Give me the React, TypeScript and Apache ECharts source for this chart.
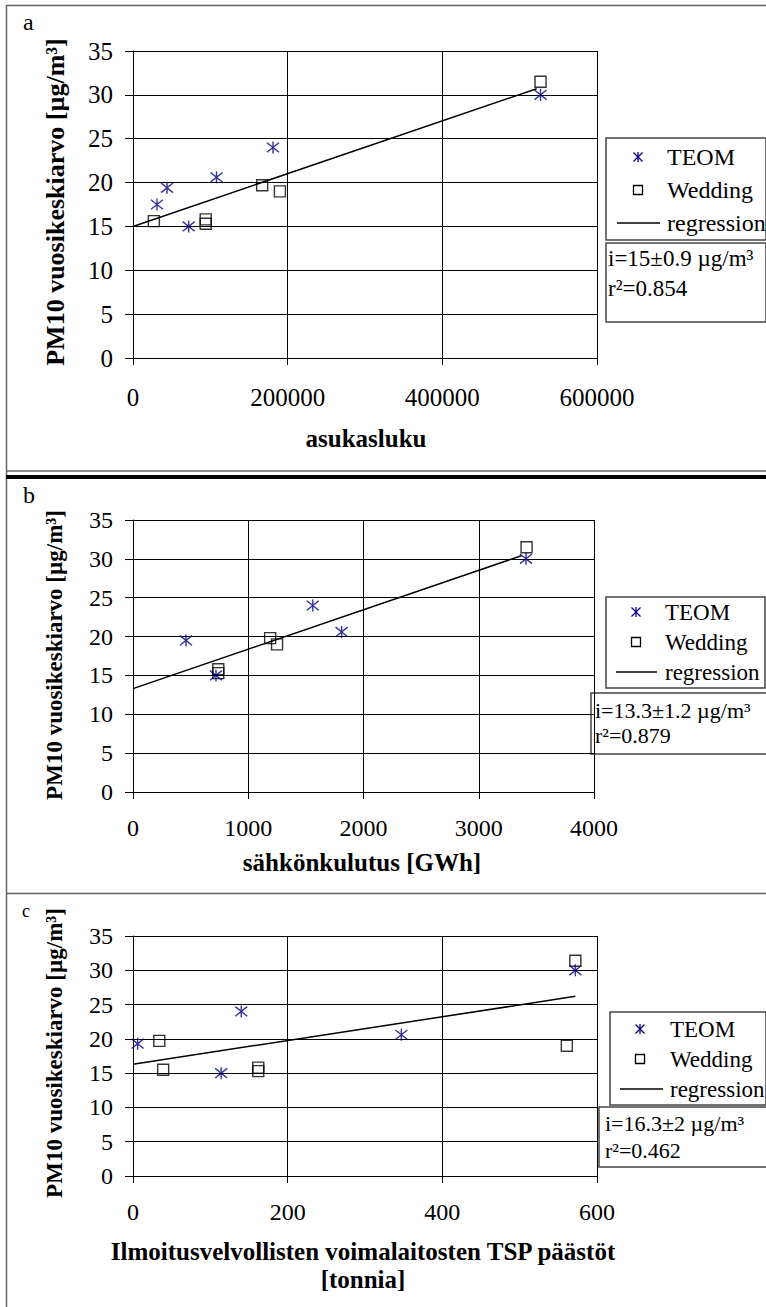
import React, { useEffect, useRef } from "react";
import * as echarts from "echarts";

const FONT = "Liberation Serif";

// ---------- data ----------
// panel a: population
const teomAX = [31000, 44000, 72000, 108000, 181000, 527000];
const teomAY = [17.5, 19.4, 15.0, 20.6, 24.0, 30.0];
const weddingAX = [27000, 94000, 94000, 167000, 190000, 527000];
const weddingAY = [15.6, 15.8, 15.3, 19.7, 19.0, 31.5];
const regressionAX = [0, 522000];
const regressionAY = [15.0, 30.7];
const xTicksA = [0, 200000, 400000, 600000];

// panel b: electricity consumption
const teomBX = [460, 720, 1560, 1810, 3410];
const teomBY = [19.5, 15.0, 24.0, 20.6, 30.0];
const weddingBX = [740, 740, 1190, 1250, 3415];
const weddingBY = [15.8, 15.3, 19.8, 19.0, 31.5];
const regressionBX = [0, 3370];
const regressionBY = [13.3, 30.4];
const xTicksB = [0, 1000, 2000, 3000, 4000];

// panel c: TSP emissions
const teomCX = [6, 114, 140, 347, 572];
const teomCY = [19.3, 15.0, 24.0, 20.6, 30.0];
const weddingCX = [34, 39, 162, 162, 561, 572];
const weddingCY = [19.7, 15.5, 15.8, 15.3, 19.0, 31.4];
const regressionCX = [0, 572];
const regressionCY = [16.3, 26.2];
const xTicksC = [0, 200, 400, 600];

const yTicks = [0, 5, 10, 15, 20, 25, 30, 35];

const panelLetters = ["a", "b", "c"];
const yTitle = "PM10 vuosikeskiarvo [µg/m³]";
const xTitleA = ["asukasluku"];
const xTitleB = ["sähkönkulutus [GWh]"];
const xTitleC = ["Ilmoitusvelvollisten voimalaitosten TSP päästöt", "[tonnia]"];
const legendNames = ["TEOM", "Wedding", "regression"];
const statsA = ["i=15±0.9 µg/m³", "r²=0.854"];
const statsB = ["i=13.3±1.2 µg/m³", "r²=0.879"];
const statsC = ["i=16.3±2 µg/m³", "r²=0.462"];

// ---------- layout ----------
const NAVY = "#000080";
const ASTERISK = "path://M1,1L9,9M9,1L1,9M5,0L5,10";

const zip = (xs: number[], ys: number[]) => xs.map((x, i) => [x, ys[i]]);

const panels = [
  {
    grid: { left: 133, top: 51, width: 464, height: 307 },
    xTicks: xTicksA, labelMargin: 27, tickFont: 25,
    teom: zip(teomAX, teomAY), wedding: zip(weddingAX, weddingAY), reg: zip(regressionAX, regressionAY),
    letter: { x: 23, y: 22, size: 24 },
    yTitle: { x: 55, y: 202, size: 26 },
    xTitle: { lines: xTitleA, x: 366, y: 438, size: 25, lh: 29 },
    legend: { box: [606, 138, 160, 102], rows: [157, 190, 223], marker: 638, text: 667, line: [617, 660], size: 24 },
    stats: { box: [606, 243, 160, 79], rows: [258, 288], x: 608, size: 23, lines: statsA },
  },
  {
    grid: { left: 133, top: 520, width: 461, height: 272 },
    xTicks: xTicksB, labelMargin: 24, tickFont: 24,
    teom: zip(teomBX, teomBY), wedding: zip(weddingBX, weddingBY), reg: zip(regressionBX, regressionBY),
    letter: { x: 23, y: 495, size: 24 },
    yTitle: { x: 54, y: 655, size: 23 },
    xTitle: { lines: xTitleB, x: 362, y: 862, size: 25, lh: 29 },
    legend: { box: [606, 597, 159, 91], rows: [612, 642, 672], marker: 636, text: 665, line: [616, 657], size: 23 },
    stats: { box: [591, 693, 176, 61], rows: [710, 735], x: 595, size: 22, lines: statsB },
  },
  {
    grid: { left: 133, top: 936, width: 464, height: 240 },
    xTicks: xTicksC, labelMargin: 24, tickFont: 24,
    teom: zip(teomCX, teomCY), wedding: zip(weddingCX, weddingCY), reg: zip(regressionCX, regressionCY),
    letter: { x: 22, y: 911, size: 18 },
    yTitle: { x: 54, y: 1053, size: 23 },
    xTitle: { lines: xTitleC, x: 363, y: 1251, size: 25, lh: 28 },
    legend: { box: [610, 1012, 156, 93], rows: [1029, 1059, 1089], marker: 640, text: 670, line: [620, 663], size: 23 },
    stats: { box: [599, 1107, 168, 60], rows: [1123, 1150], x: 605, size: 22, lines: statsC },
  },
];

const text = (
  str: string, x: number, y: number, size: number,
  opts: { bold?: boolean; align?: string; rotation?: number } = {}
) => ({
  type: "text",
  x, y,
  rotation: opts.rotation || 0,
  silent: true,
  style: {
    text: str,
    fontFamily: FONT,
    fontSize: size,
    fontWeight: opts.bold ? "bold" : "normal",
    fill: "#000",
    textAlign: opts.align || "left",
    textVerticalAlign: "middle",
  },
});

const line = (x1: number, y1: number, x2: number, y2: number, stroke: string, lineWidth: number) => ({
  type: "line",
  silent: true,
  shape: { x1, y1, x2, y2 },
  style: { stroke, lineWidth },
});

function buildOption() {
  const grid: any[] = [];
  const xAxis: any[] = [];
  const yAxis: any[] = [];
  const series: any[] = [];
  const graphic: any[] = [];

  // frames
  const FRAME = "#666";
  graphic.push(line(6, 5.5, 766, 5.5, FRAME, 1.5));
  graphic.push(line(6.5, 5, 6.5, 1307, FRAME, 1.5));
  graphic.push(line(6, 471, 766, 471, FRAME, 1.5));
  graphic.push(line(6, 477, 766, 477, "#000", 4));
  graphic.push(line(6, 893.5, 766, 893.5, FRAME, 1.5));

  panels.forEach((p, i) => {
    grid.push({ ...p.grid, containLabel: false });
    const xt = p.xTicks;
    xAxis.push({
      type: "value",
      gridIndex: i,
      min: xt[0],
      max: xt[xt.length - 1],
      interval: xt[1] - xt[0],
      axisLine: { show: true, onZero: false, lineStyle: { color: "#000", width: 1 } },
      axisTick: { show: true, inside: false, length: 7, lineStyle: { color: "#000", width: 1 } },
      splitLine: { show: true, lineStyle: { color: "#000", width: 1 } },
      axisLabel: {
        color: "#000", fontFamily: FONT, fontSize: p.tickFont, margin: p.labelMargin,
        formatter: (v: number) => String(v),
      },
    });
    yAxis.push({
      type: "value",
      gridIndex: i,
      min: yTicks[0],
      max: yTicks[yTicks.length - 1],
      interval: yTicks[1] - yTicks[0],
      axisLine: { show: true, onZero: false, lineStyle: { color: "#000", width: 1 } },
      axisTick: { show: true, inside: false, length: 8, lineStyle: { color: "#000", width: 1 } },
      splitLine: { show: true, lineStyle: { color: "#000", width: 1 } },
      axisLabel: { color: "#000", fontFamily: FONT, fontSize: p.tickFont, margin: 20 },
    });

    series.push({
      type: "line", name: legendNames[2], xAxisIndex: i, yAxisIndex: i,
      data: p.reg, symbol: "none", silent: true, z: 2,
      lineStyle: { color: "#000", width: 1.5 },
    });
    series.push({
      type: "scatter", name: legendNames[1], xAxisIndex: i, yAxisIndex: i,
      data: p.wedding, symbol: "rect", symbolSize: 11, silent: true, z: 3,
      itemStyle: { color: "transparent", borderColor: "#000", borderWidth: 1.4 },
    });
    series.push({
      type: "scatter", name: legendNames[0], xAxisIndex: i, yAxisIndex: i,
      data: p.teom, symbol: ASTERISK, symbolSize: 12, silent: true, z: 4,
      itemStyle: { color: "transparent", borderColor: NAVY, borderWidth: 1.4 },
    });

    // texts
    graphic.push(text(panelLetters[i], p.letter.x, p.letter.y, p.letter.size));
    graphic.push(text(yTitle, p.yTitle.x, p.yTitle.y, p.yTitle.size, { bold: true, align: "center", rotation: Math.PI / 2 }));
    p.xTitle.lines.forEach((s, k) => {
      graphic.push(text(s, p.xTitle.x, p.xTitle.y + k * p.xTitle.lh, p.xTitle.size, { bold: true, align: "center" }));
    });

    // legend box
    const L = p.legend;
    graphic.push({
      type: "rect", silent: true,
      shape: { x: L.box[0], y: L.box[1], width: L.box[2], height: L.box[3] },
      style: { fill: "#fff", stroke: "#444", lineWidth: 1.5 },
    });
    const r = 4.5;
    const mx = L.marker, my = L.rows[0];
    graphic.push(line(mx - r, my - r, mx + r, my + r, NAVY, 1.3));
    graphic.push(line(mx + r, my - r, mx - r, my + r, NAVY, 1.3));
    graphic.push(line(mx, my - r - 0.5, mx, my + r + 0.5, NAVY, 1.3));
    graphic.push({
      type: "rect", silent: true,
      shape: { x: mx - 4.5, y: L.rows[1] - 4.5, width: 9, height: 9 },
      style: { fill: "none", stroke: "#000", lineWidth: 1.3 },
    });
    graphic.push(line(L.line[0], L.rows[2], L.line[1], L.rows[2], "#000", 1.3));
    legendNames.forEach((n, k) => graphic.push(text(n, L.text, L.rows[k], L.size)));

    // stats box
    const S = p.stats;
    graphic.push({
      type: "rect", silent: true,
      shape: { x: S.box[0], y: S.box[1], width: S.box[2], height: S.box[3] },
      style: { fill: "#fff", stroke: "#444", lineWidth: 1.5 },
    });
    S.lines.forEach((s, k) => graphic.push(text(s, S.x, S.rows[k], S.size)));
  });

  return { animation: false, grid, xAxis, yAxis, series, graphic };
}

export default function App() {
  const ref = useRef<HTMLDivElement>(null);
  useEffect(() => {
    document.body.style.margin = "0";
    const chart = echarts.init(ref.current!, null, { renderer: "svg" });
    chart.setOption(buildOption() as any);
    return () => chart.dispose();
  }, []);
  return <div ref={ref} style={{ width: 766, height: 1307, background: "#fff" }} />;
}
